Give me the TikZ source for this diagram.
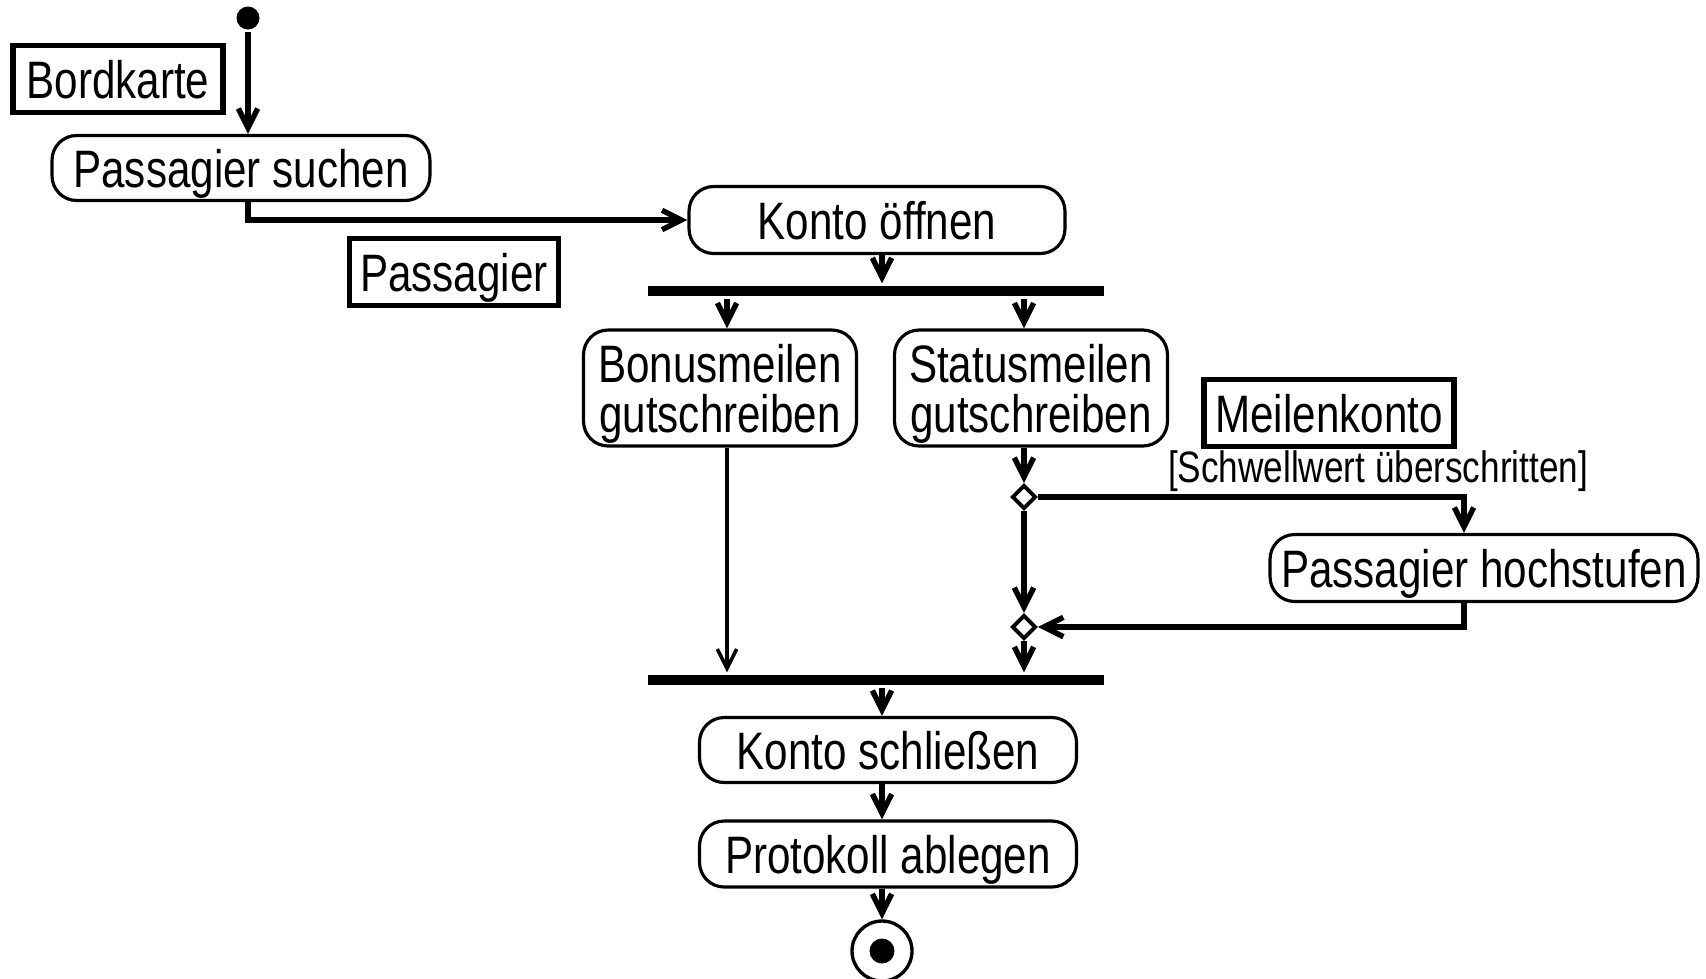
\documentclass[tikz,border=0pt]{standalone}
\usepackage{fontspec}
\setmainfont[FakeStretch=0.8]{Liberation Sans}
\usetikzlibrary{arrows.meta,shapes.geometric,calc}

\begin{document}
\begin{tikzpicture}[x=0.02cm,y=-0.02cm,-{Straight Barb[length=11pt,width=11pt]},line width=3.1pt,
	action node/.style={draw,line width=1.8pt,rounded corners=14pt,minimum height=1.3cm,align=center,inner sep=2pt,text depth=0pt,font=\fontsize{30}{28.5}\selectfont},
	object node/.style={draw,line width=2.9pt,minimum height=1.34cm,inner sep=2pt,text depth=0pt,font=\fontsize{30}{28.5}\selectfont},
	bar node/.style={fill,inner sep=0pt,minimum width=9.12cm,minimum height=0.2cm},
	decision node/.style={diamond,draw,fill=white,line width=2.2pt,inner sep=0pt,minimum size=0.48cm},
	guard label/.style={inner sep=0pt,font=\fontsize{25}{28}\selectfont}]
	
	\useasboundingbox (0,0) rectangle (1706,978);
	
	\node[circle,fill,inner sep=0pt,minimum size=0.46cm] (start) at (248,18) {};
	\node[object node,minimum width=4.2cm] (bordkarte) at (118,79) {Bordkarte};
	\node[action node,minimum width=7.56cm] (suchen) at (241,168) {Passagier suchen};
	\node[object node,minimum width=4.18cm] (passagier) at (454,272) {Passagier};
	\node[action node,minimum width=7.52cm,minimum height=1.34cm] (oeffnen) at (877,220) {Konto öffnen};
	\node[bar node] (fork) at (876,291) {};
	\node[action node,minimum width=5.46cm,minimum height=2.32cm] (bonus) at (720,388) {Bonusmeilen\\gutschreiben};
	\node[action node,minimum width=5.46cm,minimum height=2.32cm] (status) at (1031,388) {Statusmeilen\\gutschreiben};
	\node[object node,minimum width=5cm] (meilenkonto) at (1329,413) {Meilenkonto};
	\node[guard label] (guard) at (1378,471) {[Schwellwert überschritten]};
	\node[decision node] (d1) at (1024,497) {};
	\node[action node,minimum width=8.56cm,minimum height=1.34cm] (hochstufen) at (1484,568) {Passagier hochstufen};
	\node[decision node] (d2) at (1024,627) {};
	\node[bar node] (join) at (876,680) {};
	\node[action node,minimum width=7.54cm] (schliessen) at (888,750) {Konto schließen};
	\node[action node,minimum width=7.54cm,minimum height=1.32cm] (protokoll) at (888,854) {Protokoll ablegen};
	\node[circle,draw,line width=1.9pt,minimum size=1.2cm] (end) at (882,951) {};
	\node[circle,fill,inner sep=0pt,minimum size=0.5cm] (enddot) at (end) {};
	\coordinate (bonusline) at (727,0);
	
	\draw (start) -- (start |- suchen.north);
	\draw (suchen.south -| start) |- (oeffnen.west);
	\draw (oeffnen.south -| end) -- (end |- fork.north);
	\draw (fork.south -| bonusline) -- (bonusline |- bonus.north);
	\draw (fork.south -| d1) -- (d1 |- status.north);
	\draw (d1 |- status.south) -- (d1);
	\draw (d1) -| ($(hochstufen.north)+(-20,0)$);
	\draw (d1) -- (d2);
	\draw ($(hochstufen.south)+(-20,0)$) |- (d2);
	\draw[line width=2pt] (bonusline |- bonus.south) -- (bonusline |- join.north);
	\draw (d2) -- (d2 |- join.north);
	\draw (join.south -| end) -- (end |- schliessen.north);
	\draw (schliessen.south -| end) -- (end |- protokoll.north);
	\draw (protokoll.south -| end) -- (end);
\end{tikzpicture}
\end{document}
